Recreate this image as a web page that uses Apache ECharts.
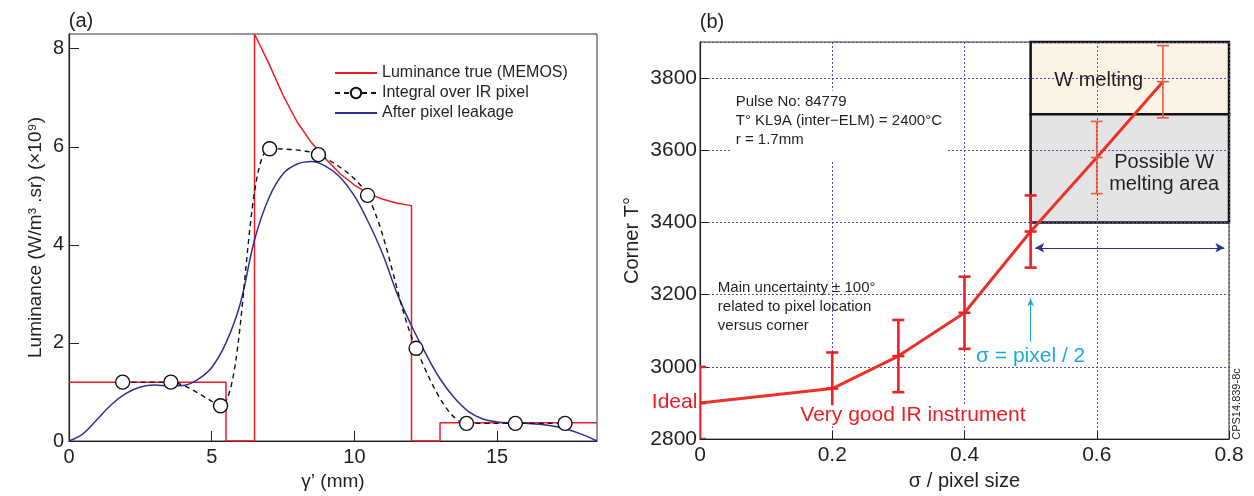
<!DOCTYPE html>
<html>
<head>
<meta charset="utf-8">
<script src="https://cdn.jsdelivr.net/npm/echarts@6/dist/echarts.min.js"></script>
<style>
  html, body { margin: 0; padding: 0; background: #fff; }
  #chart { width: 1254px; height: 496px; }
</style>
</head>
<body>
<div id="chart"></div>
<script>
// ---- (a) luminance across the corner ----
const trueX = [0, 5.5, 5.5, 6.5, 6.5, 7.0, 7.5, 8.0, 8.5, 9.0, 9.5, 10.0, 10.5, 11.0, 11.5, 12.0, 12.0, 13.0, 13.0, 18.5];
const trueY = [1.2, 1.2, 0, 0, 8.3, 7.7, 7.05, 6.5, 6.08, 5.75, 5.45, 5.22, 5.04, 4.93, 4.85, 4.8, 0, 0, 0.37, 0.37];

const pixelX = [1.88, 3.57, 5.31, 7.03, 8.74, 10.46, 12.16, 13.93, 15.64, 17.38];
const pixelY = [1.2, 1.2, 0.72, 5.96, 5.84, 5.01, 1.89, 0.36, 0.36, 0.36];

const leakX = [0, 0.5, 1, 1.5, 2, 2.5, 3, 3.5, 4, 4.5, 5, 5.5, 6, 6.5, 7, 7.5, 8, 8.5, 9, 9.5,
               10, 10.5, 11, 11.5, 12, 12.5, 13, 13.5, 14, 14.5, 15, 15.5, 16, 16.5, 17, 17.5, 18, 18.5];
const leakY = [0, 0.15, 0.45, 0.75, 0.97, 1.1, 1.14, 1.12, 1.13, 1.25, 1.5, 2.0, 2.8, 4.1, 4.95, 5.45, 5.65, 5.7, 5.6, 5.38,
               5.0, 4.45, 3.8, 3.0, 2.35, 1.78, 1.27, 0.88, 0.6, 0.45, 0.39, 0.37, 0.36, 0.34, 0.3, 0.23, 0.13, 0];

// ---- (b) corner temperature vs sigma ----
const sigmaX = [0, 0.2, 0.3, 0.4, 0.5, 0.6, 0.7];
const cornerT = [2900, 2940, 3030, 3150, 3375, 3580, 3790];
const cornerErr = [100, 100, 100, 100, 100, 100, 100];

// zones: [sigma from, sigma to, T from, T to]
const meltZone = [0.5, 0.8, 3700, 3900];
const possibleZone = [0.5, 0.8, 3400, 3700];

const zip = (xs, ys) => xs.map((x, i) => [x, ys[i]]);

const FONT = 'Liberation Sans, Arial, Helvetica, sans-serif';
const INK = '#231f20';
const RED = '#ed1c24';
const NAVY = '#2e3192';
const GRIDBLUE = '#4b4fa6';

const chart = echarts.init(document.getElementById('chart'));

function renderZone(params, api) {
  const a = api.coord([api.value(0), api.value(3)]);
  const b = api.coord([api.value(1), api.value(2)]);
  return {
    type: 'rect',
    shape: { x: a[0], y: a[1], width: b[0] - a[0], height: b[1] - a[1] },
    style: { fill: params.dataIndex === 0 ? '#fbf3e6' : '#e4e4e4', stroke: '#111', lineWidth: 2.5 }
  };
}

function renderErr(params, api) {
  const x = api.value(0), c = api.value(1), e = api.value(2);
  const top = api.coord([x, c + e]), bot = api.coord([x, c - e]), mid = api.coord([x, c]);
  const light = params.dataIndex >= 5;
  const style = { stroke: light ? '#ea5a48' : '#ec2027', lineWidth: light ? 1.6 : 2.6 };
  const w = 6;
  const seg = (x1, y1, x2, y2) => ({ type: 'line', shape: { x1, y1, x2, y2 }, style });
  return {
    type: 'group',
    children: [
      seg(top[0], top[1], bot[0], bot[1]),
      seg(top[0] - w, top[1], top[0] + w, top[1]),
      seg(bot[0] - w, bot[1], bot[0] + w, bot[1]),
      seg(mid[0] - w, mid[1], mid[0] + w, mid[1])
    ]
  };
}

const option = {
  animation: false,
  textStyle: { fontFamily: FONT, color: INK },
  grid: [
    { left: 69, top: 34, width: 528, height: 408, show: true, borderColor: '#333', borderWidth: 1 },
    { left: 700, top: 42, width: 529, height: 400, show: true, borderColor: '#333', borderWidth: 1 }
  ],
  legend: {
    orient: 'vertical',
    left: 334,
    top: 65,
    padding: 0,
    itemWidth: 42,
    itemHeight: 13,
    itemGap: 4,
    data: [
      { name: 'Luminance true (MEMOS)', itemStyle: { opacity: 0 } },
      { name: 'Integral over IR pixel' },
      { name: 'After pixel leakage', itemStyle: { opacity: 0 } }
    ],
    textStyle: { fontSize: 16, color: INK, fontFamily: FONT }
  },
  xAxis: [
    {
      gridIndex: 0, type: 'value', min: 0, max: 18.5, interval: 5,
      axisLine: { lineStyle: { color: INK, width: 1.2 } },
      axisTick: { inside: true, length: 10, lineStyle: { color: INK } },
      axisLabel: { fontSize: 20, color: INK, margin: 6, showMaxLabel: false },
      splitLine: { show: false },
      name: 'γ’ (mm)', nameLocation: 'middle', nameGap: 31,
      nameTextStyle: { fontSize: 19, color: INK }
    },
    {
      gridIndex: 1, type: 'value', min: 0, max: 0.8, interval: 0.2, z: 2,
      axisLine: { lineStyle: { color: INK, width: 1.2 } },
      axisTick: { inside: true, length: 8, lineStyle: { color: INK } },
      axisLabel: { fontSize: 21, color: INK, margin: 6 },
      splitLine: { show: true, lineStyle: { color: GRIDBLUE, width: 1, type: [2, 2] } },
      name: 'σ / pixel size', nameLocation: 'middle', nameGap: 31,
      nameTextStyle: { fontSize: 20, color: INK }
    }
  ],
  yAxis: [
    {
      gridIndex: 0, type: 'value', min: 0, max: 8.3, interval: 2,
      axisLine: { lineStyle: { color: INK, width: 1.2 } },
      axisTick: { inside: true, length: 10, lineStyle: { color: INK } },
      axisLabel: { fontSize: 20, color: INK, margin: 5, showMaxLabel: false },
      splitLine: { show: false },
      name: 'Luminance (W/m³ .sr) (×10⁹)', nameLocation: 'middle', nameGap: 24,
      nameTextStyle: { fontSize: 19, color: INK }
    },
    {
      gridIndex: 1, type: 'value', min: 2800, max: 3900, interval: 200, z: 2,
      axisLine: { lineStyle: { color: INK, width: 1.2 } },
      axisTick: { inside: true, length: 8, lineStyle: { color: INK } },
      axisLabel: { fontSize: 21, color: INK, margin: 3, showMaxLabel: false, formatter: v => String(v) },
      splitLine: { show: true, lineStyle: { color: GRIDBLUE, width: 1, type: [2, 2] } },
      name: 'Corner T°', nameLocation: 'middle', nameGap: 58,
      nameTextStyle: { fontSize: 20, color: INK }
    }
  ],
  series: [
    {
      name: 'Luminance true (MEMOS)', type: 'line', xAxisIndex: 0, yAxisIndex: 0,
      data: zip(trueX, trueY), symbol: 'none', z: 3,
      lineStyle: { color: RED, width: 1.5 }, itemStyle: { color: RED }
    },
    {
      name: 'Integral over IR pixel', type: 'line', xAxisIndex: 0, yAxisIndex: 0,
      data: zip(pixelX, pixelY), smooth: 0.3, symbol: 'circle', symbolSize: 14, z: 5,
      lineStyle: { color: '#111', width: 1.4, type: [5, 4] },
      itemStyle: { color: '#fff', borderColor: '#111', borderWidth: 1.4 }
    },
    {
      name: 'After pixel leakage', type: 'line', xAxisIndex: 0, yAxisIndex: 0,
      data: zip(leakX, leakY), smooth: 0.4, symbol: 'none', z: 4,
      lineStyle: { color: NAVY, width: 1.5 }, itemStyle: { color: NAVY }
    },
    {
      name: 'zones', type: 'custom', xAxisIndex: 1, yAxisIndex: 1, z: 1, silent: true,
      data: [meltZone, possibleZone], renderItem: renderZone
    },
    {
      name: 'Corner T', type: 'line', xAxisIndex: 1, yAxisIndex: 1,
      data: zip(sigmaX, cornerT), symbol: 'none', z: 5,
      lineStyle: { color: '#ec3226', width: 3 },
      markLine: {
        silent: true,
        label: { show: false },
        data: [
          [
            { coord: [0.507, 3330], symbol: 'arrow', symbolSize: [7, 9], lineStyle: { color: NAVY, width: 1.2, type: 'solid' } },
            { coord: [0.793, 3330], symbol: 'arrow', symbolSize: [7, 9] }
          ],
          [
            { coord: [0.5, 3070], symbol: 'none', lineStyle: { color: '#1ba9e1', width: 1, type: 'solid' } },
            { coord: [0.5, 3190], symbol: 'arrow', symbolSize: [5, 8] }
          ]
        ]
      }
    },
    {
      name: 'error', type: 'custom', xAxisIndex: 1, yAxisIndex: 1, z: 6, clip: true, silent: true,
      data: sigmaX.map((x, i) => [x, cornerT[i], cornerErr[i]]),
      renderItem: renderErr
    }
  ]
};

chart.setOption(option);

// annotations placed in panel (b) data units
const px = (x, y) => chart.convertToPixel({ gridIndex: 1 }, [x, y]);
const txt = (pos, text, style, extra) => Object.assign({
  type: 'text', x: pos[0], y: pos[1], z: 50,
  style: Object.assign({ text, fontFamily: FONT, fill: INK }, style)
}, extra || {});

const pulse = px(0.048, 3765);
const uncert = px(0.027, 3246);
const good = px(0.322, 2865);
const ideal = px(-0.004, 2902);
const sigmaNote = px(0.5, 3030);
const wMelt = px(0.603, 3793);
const possible = px(0.702, 3537);

chart.setOption({
  graphic: [
    txt([81, 21], '(a)', { fontSize: 20, align: 'center', verticalAlign: 'middle' }),
    txt([712, 22], '(b)', { fontSize: 20, align: 'center', verticalAlign: 'middle' }),
    txt(pulse, 'Pulse No: 84779\nT° KL9A (inter−ELM) = 2400°C\nr = 1.7mm',
      { fontSize: 15, lineHeight: 19, verticalAlign: 'top', backgroundColor: '#fff', padding: [2, 4, 12, 4] }),
    txt(uncert, 'Main uncertainty ± 100°\nrelated to pixel location\nversus corner',
      { fontSize: 15, lineHeight: 19, verticalAlign: 'top' }),
    txt(good, 'Very good IR instrument',
      { fontSize: 21, fill: RED, align: 'center', verticalAlign: 'middle', backgroundColor: '#fff', padding: [0, 2] }),
    txt(ideal, 'Ideal', { fontSize: 21, fill: RED, align: 'right', verticalAlign: 'middle' }),
    txt(sigmaNote, 'σ = pixel / 2', { fontSize: 21, fill: '#1ba9e1', align: 'center', verticalAlign: 'middle' }),
    txt(wMelt, 'W melting', { fontSize: 20, align: 'center', verticalAlign: 'middle' }),
    txt(possible, 'Possible W\nmelting area', { fontSize: 20, lineHeight: 22, align: 'center', verticalAlign: 'middle' }),
    txt([1237, 404], 'CPS14.839-8c', { fontSize: 11, align: 'center', verticalAlign: 'middle' }, { rotation: Math.PI / 2 })
  ]
});

window.addEventListener('resize', function () { chart.resize(); });
</script>
</body>
</html>
